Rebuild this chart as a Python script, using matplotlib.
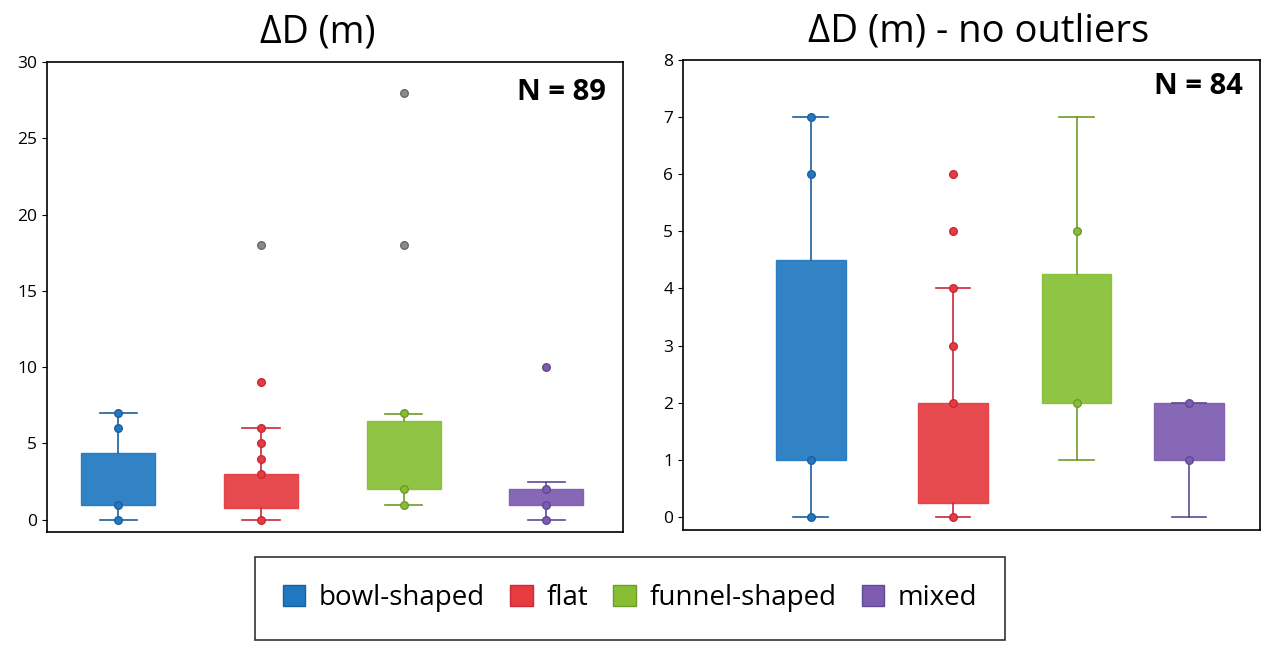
import numpy as np
import matplotlib
matplotlib.use("Agg")
import matplotlib.pyplot as plt
from matplotlib.patches import Patch

plt.rcParams['font.family'] = ['Open Sans', 'DejaVu Sans']

categories = ['bowl-shaped', 'flat', 'funnel-shaped', 'mixed']
colors = ['#1f78c1', '#e63c40', '#86bf34', '#7d5bb0']
edge_colors = ['#1d5f9c', '#c8283a', '#6f9a2a', '#5e4a93']

# full data set (N = 89)
all_q1 = [1.0, 0.75, 2.0, 1.0]
all_med = [2.0, 1.5, 3.0, 1.5]
all_q3 = [4.4, 3.0, 6.5, 2.0]
all_lo = [0, 0, 1, 0]
all_hi = [7, 6, 6.9, 2.5]
all_points = [[0, 1, 6, 7], [0, 3, 4, 5, 6, 9], [1, 2, 7], [0, 1, 2, 10]]
all_grey = [[], [18], [18, 28], []]

# outliers removed (N = 84)
clean_q1 = [1.0, 0.25, 2.0, 1.0]
clean_med = [2.0, 1.0, 3.0, 1.5]
clean_q3 = [4.5, 2.0, 4.25, 2.0]
clean_lo = [0, 0, 1, 0]
clean_hi = [7, 4, 7, 2]
clean_points = [[0, 1, 6, 7], [0, 2, 3, 4, 5, 6], [2, 5], [1, 2]]
clean_grey = [[], [], [], []]


def draw_panel(ax, q1, med, q3, lo, hi, points, grey, pos, width):
    for i in range(len(categories)):
        st = dict(q1=q1[i], med=med[i], q3=q3[i], whislo=lo[i], whishi=hi[i], fliers=[])
        ax.bxp([st], positions=[pos[i]], widths=width, patch_artist=True,
               showfliers=False,
               boxprops=dict(facecolor=colors[i], edgecolor=colors[i], alpha=0.92),
               whiskerprops=dict(color=edge_colors[i], lw=1.2),
               capprops=dict(color=edge_colors[i], lw=1.2),
               medianprops=dict(color=colors[i], lw=0))
        ax.scatter([pos[i]] * len(points[i]), points[i], s=30, color=colors[i],
                   edgecolor=edge_colors[i], linewidth=1, zorder=4)
        if grey[i]:
            ax.scatter([pos[i]] * len(grey[i]), grey[i], s=30, color='#8a8a8a',
                       edgecolor='#6a6a6a', linewidth=1, zorder=4)
    ax.set_xticks([])
    ax.tick_params(axis='y', labelsize=12.5)
    for sp in ax.spines.values():
        sp.set_linewidth(1.2)


fig = plt.figure(figsize=(12.61, 6.45), dpi=100)

ax1 = fig.add_axes([0.0373, 0.1752, 0.457, 0.7287])
draw_panel(ax1, all_q1, all_med, all_q3, all_lo, all_hi, all_points, all_grey,
           [0, 1, 2, 3], 0.52)
ax1.set_xlim(-0.5, 3.54)
ax1.set_ylim(-0.8, 30)
ax1.set_yticks([0, 5, 10, 15, 20, 25, 30])
ax1.set_title('ΔD (m)', fontsize=27, pad=14, x=0.47)
ax1.text(0.97, 0.965, 'N = 89', transform=ax1.transAxes, ha='right', va='top',
         fontsize=21, fontweight='bold')

ax2 = fig.add_axes([0.5416, 0.1783, 0.4576, 0.7287])
draw_panel(ax2, clean_q1, clean_med, clean_q3, clean_lo, clean_hi, clean_points,
           clean_grey, [0, 1, 1.87, 2.66], 0.49)
ax2.set_xlim(-0.9, 3.16)
ax2.set_ylim(-0.23, 8)
ax2.set_yticks(range(0, 9))
ax2.set_title('ΔD (m) - no outliers', fontsize=27.5, pad=13, x=0.513)
ax2.text(0.97, 0.975, 'N = 84', transform=ax2.transAxes, ha='right', va='top',
         fontsize=21, fontweight='bold')

handles = [Patch(facecolor=c, edgecolor=e, label=l)
           for c, e, l in zip(colors, edge_colors, categories)]
leg = fig.legend(handles=handles, loc='center', ncol=4, mode='expand',
                 bbox_to_anchor=(0.2022, 0.0078, 0.595, 0.1286),
                 fontsize=20, frameon=True, fancybox=False, edgecolor='black',
                 handlelength=0.8, handleheight=0.8, handletextpad=0.5,
                 columnspacing=0.6, borderpad=1.0, borderaxespad=0)
leg.get_frame().set_linewidth(1.2)

fig.savefig('out.png', dpi=100)
